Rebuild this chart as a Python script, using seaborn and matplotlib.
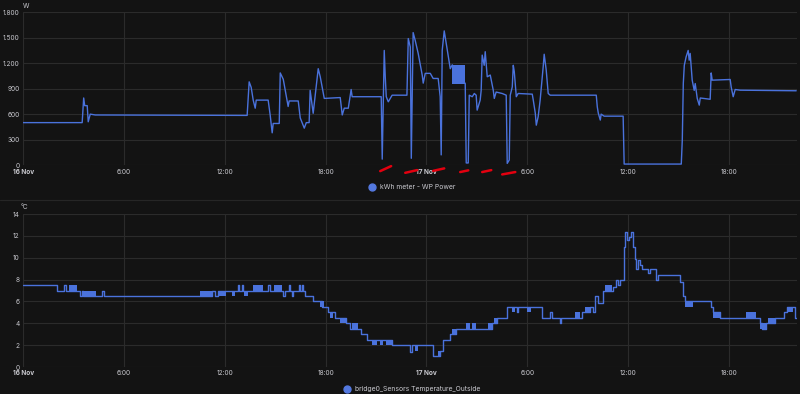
import matplotlib
matplotlib.use("Agg")
import matplotlib.pyplot as plt
import seaborn as sns
import pandas as pd
from matplotlib.lines import Line2D

# ---- data (hours since 16 Nov 00:00) ----
power_hours = [0.00, 3.51, 3.60, 3.66, 3.81, 3.87, 3.99, 4.29, 13.33, 13.45, 13.57, 13.69, 13.81, 13.87,
               14.58, 14.70, 14.82, 14.88, 15.24, 15.30, 15.48, 15.77, 15.83, 16.37, 16.49, 16.73, 16.85,
               17.02, 17.08, 17.26, 17.56, 17.68, 17.92, 18.87, 18.99, 19.11, 19.35, 19.52, 19.58, 21.31,
               21.37, 21.49, 21.55, 21.61, 21.73, 21.96, 22.84, 22.92, 23.04, 23.10, 23.21, 23.33, 23.51,
               23.75, 23.81, 23.93, 24.23, 24.40, 24.70, 24.82, 24.88, 24.94, 25.06, 25.18, 25.30, 25.42,
               25.54, 26.31, 26.37, 26.49, 26.55, 26.73, 26.85, 26.96, 27.02, 27.14, 27.20, 27.26, 27.32,
               27.44, 27.50, 27.62, 27.80, 27.98, 28.04, 28.15, 28.51, 28.75, 28.81, 28.93, 28.99, 29.11,
               29.17, 29.23, 29.35, 29.46, 30.30, 30.36, 30.48, 30.54, 30.65, 30.77, 30.95, 31.01, 31.13,
               31.25, 31.37, 34.11, 34.17, 34.23, 34.35, 34.40, 34.58, 35.71, 35.77, 39.17, 39.23, 39.29,
               39.35, 39.46, 39.58, 39.64, 39.70, 39.82, 39.94, 40.00, 40.12, 40.24, 40.30, 40.89, 40.95,
               41.01, 42.08, 42.14, 42.26, 42.38, 42.68, 46.01]
power_watts = [500, 500, 790, 700, 700, 510, 600, 590, 585, 980, 915, 765, 670, 765,
               765, 590, 380, 490, 490, 1085, 1010, 690, 755, 755, 555, 435, 500,
               500, 880, 610, 1135, 1040, 785, 795, 590, 670, 670, 890, 805, 805,
               70, 1350, 1040, 805, 745, 823, 823, 1490, 1390, 80, 1560, 1470, 1315,
               1060, 965, 1080, 1080, 1020, 1020, 805, 120, 1350, 1580, 1430, 1275, 1135,
               1180, 960, 25, 25, 823, 805, 843, 823, 647, 726, 765, 880, 1295,
               1175, 1335, 1040, 1060, 880, 785, 860, 843, 823, 20, 60, 823, 920,
               1175, 1100, 805, 843, 835, 765, 612, 470, 568, 765, 1155, 1305, 1120,
               843, 823, 823, 686, 612, 530, 600, 576, 576, 12, 12, 294, 960,
               1175, 1275, 1350, 1235, 1315, 1000, 880, 960, 785, 706, 790, 775, 1085,
               1000, 1008, 920, 805, 890, 882, 875]
# fast flickering section of the power series (start, end, low, high)
power_band = [(25.54, 26.31, 960, 1180)]

temp_hours = [0.00, 2.02, 2.44, 2.56, 3.39, 3.51, 3.57, 4.70, 4.82, 11.25, 11.43, 11.61, 12.80, 12.86,
              13.04, 13.10, 14.58, 14.70, 15.48, 15.60, 15.83, 15.89, 16.01, 16.07, 16.43, 16.49, 16.61,
              16.67, 16.79, 17.26, 17.80, 18.15, 18.57, 19.23, 19.46, 20.12, 20.48, 21.96, 23.04, 23.15,
              24.40, 24.82, 25.00, 25.42, 25.77, 27.92, 28.21, 28.81, 29.40, 29.46, 30.89, 31.37, 31.49,
              31.96, 32.02, 33.27, 33.75, 33.93, 34.05, 34.23, 34.52, 35.12, 35.30, 35.42, 35.54, 35.77,
              35.83, 35.95, 36.07, 36.19, 36.31, 36.43, 36.49, 36.61, 36.73, 36.85, 37.20, 37.32, 37.68,
              37.80, 39.11, 39.29, 39.40, 40.95, 41.07, 41.49, 43.87, 43.99, 44.23, 44.76, 45.30, 45.48,
              45.95, 46.07]
temp_values = [7.5, 7.0, 7.5, 7.0, 6.5, 7.0, 6.5, 7.0, 6.5, 7.0, 6.5, 7.0, 7.5, 7.0,
               7.5, 7.0, 7.5, 7.0, 6.5, 7.0, 7.5, 7.0, 6.5, 7.0, 7.5, 7.0, 7.5,
               7.0, 6.5, 6.0, 5.5, 5.0, 4.5, 4.0, 3.5, 3.0, 2.5, 2.0, 1.4, 2.0,
               1.0, 1.5, 2.5, 3.0, 3.5, 4.0, 4.5, 5.5, 5.0, 5.5, 4.5, 5.0, 4.5,
               4.0, 4.5, 5.0, 5.5, 5.0, 6.5, 5.9, 7.0, 7.3, 8.0, 7.5, 8.0, 11.0,
               12.4, 11.6, 11.9, 12.4, 11.0, 9.9, 9.0, 9.8, 9.3, 9.0, 8.6, 9.0, 8.0,
               8.4, 7.8, 6.5, 6.0, 5.5, 5.0, 4.5, 4.0, 3.5, 4.0, 4.5, 5.0, 5.5,
               4.5, 4.5]
# flickering sections of the temperature (start, end, low, high)
temp_bands = [(2.74, 3.21, 7.0, 7.5), (3.63, 4.35, 6.5, 7.0), (10.54, 11.25, 6.5, 7.0),
              (11.67, 12.08, 6.5, 7.0), (12.44, 12.62, 6.5, 7.0), (13.15, 13.39, 6.5, 7.0),
              (13.69, 14.29, 7.0, 7.5), (14.94, 15.42, 7.0, 7.5), (17.68, 17.92, 5.5, 6.0),
              (18.27, 18.45, 4.5, 5.0), (18.87, 19.29, 4.0, 4.5), (19.58, 19.94, 3.5, 4.0),
              (20.77, 21.07, 2.0, 2.5), (21.25, 21.43, 2.0, 2.5), (21.61, 21.96, 2.0, 2.5),
              (23.33, 23.51, 1.5, 2.0), (24.70, 24.88, 1.0, 1.5), (25.54, 25.77, 3.0, 3.5),
              (26.37, 26.61, 3.5, 4.0), (26.73, 26.96, 3.5, 4.0), (27.68, 27.92, 3.5, 4.0),
              (28.04, 28.21, 4.0, 4.5), (29.11, 29.29, 5.0, 5.5), (30.00, 30.24, 5.0, 5.5),
              (32.86, 33.15, 4.5, 5.0), (33.45, 33.75, 5.0, 5.5), (34.64, 35.06, 7.0, 7.5),
              (39.40, 39.88, 5.5, 6.0), (41.07, 41.49, 4.5, 5.0), (43.04, 43.63, 4.5, 5.0),
              (43.87, 44.23, 3.5, 4.0), (44.35, 44.76, 4.0, 4.5), (45.48, 45.83, 5.0, 5.5)]

x_ticks = [0, 6, 12, 18, 24, 30, 36, 42]
x_labels = ['16 Nov', '6:00', '12:00', '18:00', '17 Nov', '6:00', '12:00', '18:00']
power_ticks = [0, 300, 600, 900, 1200, 1500, 1800]
power_labels = ['0', '300', '600', '900', '1.200', '1.500', '1.800']
temp_ticks = [0, 2, 4, 6, 8, 10, 12, 14]

# red hand-drawn marks under the dips (hours, W)
red_marks = [((21.25, -71), (21.90, -12)), ((22.74, -91), (23.45, -59)),
             ((24.40, -68), (25.06, -39)), ((26.01, -82), (26.49, -62)),
             ((27.32, -82), (27.86, -59)), ((28.51, -110), (29.29, -82))]

power = pd.DataFrame({'hours': power_hours, 'watts': power_watts})
temp = pd.DataFrame({'hours': temp_hours, 'temp': temp_values})

# ---- style ----
bg = '#131313'
grid_c = '#2b2b2b'
txt = '#c9c9cf'
blue = '#4a72dc'

sns.set_style('dark')
plt.rcParams['font.family'] = ['Inter', 'DejaVu Sans']

fig = plt.figure(figsize=(8, 3.94), dpi=100, facecolor=bg)
ax1 = fig.add_axes([0.029, 0.581, 0.9675, 0.388])
ax2 = fig.add_axes([0.029, 0.0685, 0.9675, 0.388])

sns.lineplot(data=power, x='hours', y='watts', ax=ax1, color=blue, lw=1.0,
             estimator=None, sort=False)
for h0, h1, lo, hi in power_band:
    ax1.fill_between([h0, h1], lo, hi, color=blue, lw=0)

sns.lineplot(data=temp, x='hours', y='temp', ax=ax2, color=blue, lw=1.0,
             estimator=None, sort=False, drawstyle='steps-post')
for h0, h1, lo, hi in temp_bands:
    ax2.fill_between([h0, h1], lo, hi, color=blue, lw=0)

for (a, b) in red_marks:
    ax1.plot([a[0], b[0]], [a[1], b[1]], color='#e3000f', lw=1.8,
             solid_capstyle='round', clip_on=False, zorder=5)

for ax, ticks, ylim in [(ax1, power_ticks, 1800), (ax2, temp_ticks, 14)]:
    ax.set_facecolor(bg)
    ax.set_xlim(0, 46.07)
    ax.set_ylim(0, ylim)
    ax.set_xticks(x_ticks)
    ax.set_xticklabels(x_labels)
    ax.set_yticks(ticks)
    ax.grid(True, color=grid_c, lw=0.8)
    ax.set_xlabel('')
    ax.set_ylabel('')
    ax.tick_params(length=0, colors=txt, labelsize=4.7, pad=2.5)
    for s in ax.spines.values():
        s.set_visible(False)
    for lab in ax.get_xticklabels():
        if 'Nov' in lab.get_text():
            lab.set_fontweight('bold')

ax1.set_yticklabels(power_labels)
ax2.set_yticklabels([str(t) for t in temp_ticks])

ax1.text(0.003, 1.04, 'W', transform=ax1.transAxes, color=txt, fontsize=4.7, ha='center', va='center')
ax2.text(0.001, 1.046, '°C', transform=ax2.transAxes, color=txt, fontsize=4.7, ha='center', va='center')

for ax, name in [(ax1, 'kWh meter - WP Power'), (ax2, 'bridge0_Sensors Temperature_Outside')]:
    h = Line2D([], [], marker='o', ls='none', color='#5479e0', markersize=5)
    leg = ax.legend([h], [name], loc='center', bbox_to_anchor=(0.5, -0.144), frameon=False,
                    fontsize=4.9, handletextpad=0.1, borderaxespad=0)
    for t in leg.get_texts():
        t.set_color(txt)

fig.add_artist(Line2D([0, 1], [0.492, 0.492], color='#262626', lw=0.8))

fig.savefig('out.png', dpi=100, facecolor=bg)
